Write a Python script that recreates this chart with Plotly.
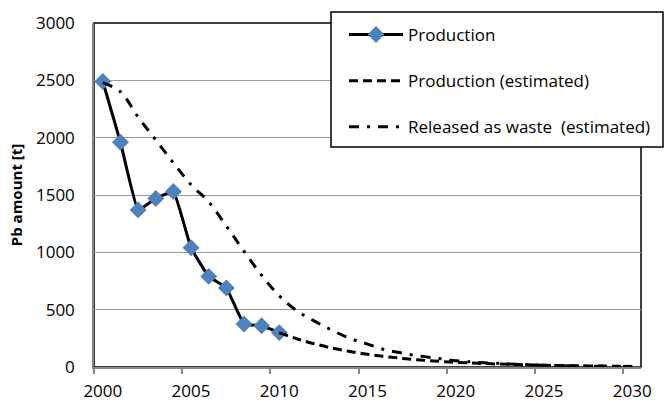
import plotly.graph_objects as go

years_prod = [2000, 2001, 2002, 2003, 2004, 2005, 2006, 2007, 2008, 2009, 2010]
production = [2490, 1960, 1370, 1470, 1530, 1040, 790, 690, 375, 360, 300]

years_est = list(range(2010, 2031))
production_est = [300, 246, 202, 165, 136, 111, 91, 75, 61, 50, 41, 34, 28, 23, 19, 15, 12, 10, 8, 7, 5]

years_waste = list(range(2000, 2031))
waste_est = [2480, 2400, 2180, 1980, 1780, 1590, 1440, 1230, 1010, 800, 620, 490, 400, 320,
             250, 200, 150, 120, 95, 75, 55, 43, 34, 27, 21, 16, 12, 9, 7, 5, 4]

x_labels = [2000, 2005, 2010, 2015, 2020, 2025, 2030]
y_ticks = [0, 500, 1000, 1500, 2000, 2500, 3000]

FONT = "Open Sans"
fig = go.Figure()

fig.add_trace(go.Scatter(
    x=years_prod, y=production, name="Production", mode="lines+markers",
    line=dict(color="black", width=3, shape="spline", smoothing=0.3),
    marker=dict(symbol="diamond", size=13, color="#4F81BD", line=dict(width=0)),
    legendgroup="a"))
fig.add_trace(go.Scatter(
    x=years_est, y=production_est, name="Production (estimated)", mode="lines",
    line=dict(color="black", width=3, dash="9px,5px", shape="spline", smoothing=1),
    legendgroup="b"))
fig.add_trace(go.Scatter(
    x=years_waste, y=waste_est, name="Released as waste\u00a0 (estimated)", mode="lines",
    line=dict(color="black", width=3, dash="10px,8px,3px,8px", shape="spline", smoothing=1),
    legendgroup="c"))

L, R, T, B = 94, 23, 23, 35
W, H = 664, 402
pw, ph = W - L - R, H - T - B

# plot area border
fig.add_shape(type="rect", xref="paper", yref="paper", x0=0, x1=1, y0=0, y1=1,
              line=dict(color="black", width=1.5), layer="below")
# legend box
fig.add_shape(type="rect", xref="paper", yref="paper",
              x0=(331 - L) / pw, x1=(663 - L) / pw,
              y0=(H - B - 147) / ph, y1=(H - B - 12) / ph,
              line=dict(color="black", width=1.5), fillcolor="white", layer="above")

fig.update_layout(
    width=W, height=H,
    margin=dict(l=L, r=R, t=T, b=B, autoexpand=False),
    paper_bgcolor="white", plot_bgcolor="white",
    font=dict(family=FONT, size=17, color="black"),
    showlegend=True,
    legend=dict(x=(344 - L) / pw, y=(H - B - 17) / ph, xanchor="left", yanchor="top",
                bgcolor="rgba(0,0,0,0)", borderwidth=0, itemwidth=54,
                traceorder="grouped", tracegroupgap=21,
                font=dict(family=FONT, size=17, color="black")),
    xaxis=dict(range=[1999.5, 2030.5], tickmode="array", tickvals=x_labels,
               ticktext=[str(v) for v in x_labels], ticks="", showgrid=False,
               zeroline=False, showline=True, linecolor="#868686", linewidth=1.5,
               ticklabelstandoff=8, automargin=False,
               minor=dict(tickmode="array", tickvals=[v - 0.5 for v in x_labels],
                          ticks="outside", ticklen=5, tickcolor="#868686", tickwidth=1.5,
                          showgrid=False)),
    yaxis=dict(range=[0, 3000], tickmode="array", tickvals=y_ticks, ticks="",
               showgrid=True, gridcolor="#9a9a9a", gridwidth=1, zeroline=False,
               showline=True, linecolor="#868686", linewidth=1.5,
               ticklabelstandoff=14, automargin=False,
               title=dict(text="<b>Pb amount [t]</b>", font=dict(family=FONT, size=15),
                          standoff=10)),
)

fig.write_html("out.html", config={"displayModeBar": False},
               post_script="document.body.style.margin='0';document.body.style.overflow='hidden';")
